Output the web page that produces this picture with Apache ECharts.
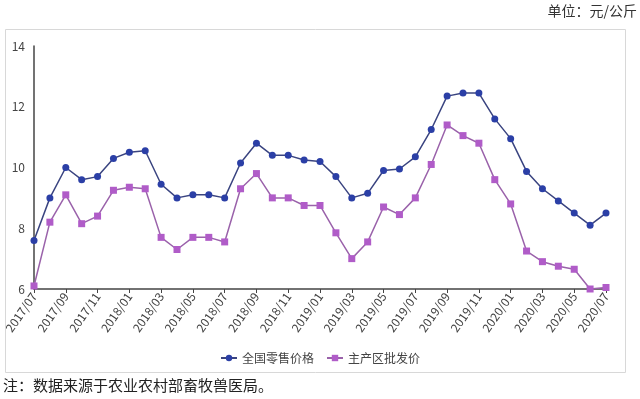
<!DOCTYPE html>
<html>
<head>
<meta charset="utf-8">
<script src="https://cdn.jsdelivr.net/npm/echarts@6/dist/echarts.min.js"></script>
<style>
  html, body { margin: 0; padding: 0; background: #fff; }
  #chart { width: 640px; height: 399px; }
</style>
</head>
<body>
<div id="chart"></div>
<script>
// 月份
const months = [
  '2017/07','2017/08','2017/09','2017/10','2017/11','2017/12',
  '2018/01','2018/02','2018/03','2018/04','2018/05','2018/06',
  '2018/07','2018/08','2018/09','2018/10','2018/11','2018/12',
  '2019/01','2019/02','2019/03','2019/04','2019/05','2019/06',
  '2019/07','2019/08','2019/09','2019/10','2019/11','2019/12',
  '2020/01','2020/02','2020/03','2020/04','2020/05','2020/06','2020/07'
]
// 全国零售价格
const retail = [
  7.6, 9.0, 10.0, 9.6, 9.7, 10.3,
  10.5, 10.55, 9.45, 9.0, 9.1, 9.1,
  9.0, 10.15, 10.8, 10.4, 10.4, 10.25,
  10.2, 9.7, 9.0, 9.15, 9.9, 9.95,
  10.35, 11.25, 12.35, 12.45, 12.45, 11.6,
  10.95, 9.87, 9.3, 8.9, 8.5, 8.1, 8.5
]
// 主产区批发价
const wholesale = [
  6.1, 8.2, 9.1, 8.15, 8.4, 9.25,
  9.35, 9.3, 7.7, 7.3, 7.7, 7.7,
  7.55, 9.3, 9.8, 9.0, 9.0, 8.75,
  8.75, 7.85, 7.0, 7.55, 8.7, 8.45,
  9.0, 10.1, 11.4, 11.05, 10.8, 9.6,
  8.8, 7.25, 6.9, 6.75, 6.65, 6.0, 6.05
]

const font = "'Noto Sans CJK SC', sans-serif"
const myCharts = echarts.init(document.getElementById('chart'))

const option = {
  backgroundColor: '#fff',
  animation: false,
  textStyle: { fontFamily: font },
  graphic: [
    {
      type: 'rect',
      left: 3, top: 27,
      shape: { width: 620, height: 343 },
      style: { fill: 'none', stroke: '#d8d8d8', lineWidth: 1 },
      z: -1
    },
    {
      type: 'text',
      right: 3, top: 4,
      style: { text: '单位：元/公斤', font: "14px " + font, fill: '#333' }
    },
    {
      type: 'text',
      left: 3, top: 378,
      style: { text: '注：数据来源于农业农村部畜牧兽医局。', font: "15px " + font, fill: '#222' }
    }
  ],
  grid: { left: 34, right: 34, top: 46, bottom: 110 },
  legend: {
    top: 347,
    left: 'center',
    itemWidth: 16,
    itemHeight: 8,
    itemGap: 12,
    textStyle: { fontSize: 12, color: '#444', fontFamily: font },
    data: ['全国零售价格', '主产区批发价']
  },
  xAxis: {
    type: 'category',
    boundaryGap: false,
    data: months,
    axisLine: { lineStyle: { color: '#444', width: 1.5 } },
    axisTick: { interval: 1, length: 4, lineStyle: { color: '#444' } },
    axisLabel: {
      interval: 1,
      rotate: 55,
      fontSize: 12,
      color: '#444',
      margin: 5,
      fontFamily: font
    },
    splitLine: { show: false }
  },
  yAxis: {
    type: 'value',
    min: 6,
    max: 14,
    interval: 2,
    axisLine: { show: true, lineStyle: { color: '#444', width: 1.5 } },
    axisTick: { show: false },
    axisLabel: { fontSize: 12, color: '#444', margin: 9 },
    splitLine: { show: false }
  },
  series: [
    {
      name: '全国零售价格',
      type: 'line',
      data: retail,
      symbol: 'circle',
      symbolSize: 7,
      lineStyle: { color: '#3a4480', width: 1.5 },
      itemStyle: { color: '#2b3fa6' }
    },
    {
      name: '主产区批发价',
      type: 'line',
      data: wholesale,
      symbol: 'rect',
      symbolSize: 7,
      lineStyle: { color: '#9a62aa', width: 1.5 },
      itemStyle: { color: '#b05cc8' }
    }
  ]
}

myCharts.setOption(option)
window.addEventListener('resize', myCharts.resize)
</script>
</body>
</html>
